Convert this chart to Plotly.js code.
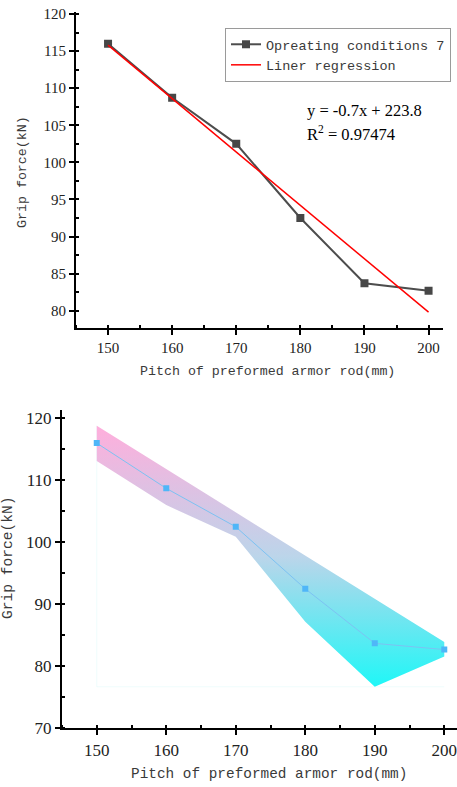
<!DOCTYPE html>
<html>
<head>
<meta charset="utf-8">
<script src="https://cdn.plot.ly/plotly-3.0.1.min.js"></script>
<style>
  html, body { margin: 0; padding: 0; background: #ffffff; overflow: hidden; }
  #chart { width: 457px; height: 787px; }
</style>
</head>
<body>
<div id="chart"></div>
<script>
// Pitch of the preformed armor rod (mm) and measured grip force (kN)
var pitch = [150, 160, 170, 180, 190, 200];
var gripForce = [116.0, 108.7, 102.5, 92.5, 83.7, 82.7];

// Fitted regression line, drawn between its two end points
var fitX = [150, 200];
var fitY = [115.8, 79.8];
var fitEquation = 'y = -0.7x + 223.8';
var fitR2 = 'R<sup>2</sup> = 0.97474';

// Band around the measured curve (upper and lower edges)
var bandUpper = [118.8, 111.8, 104.8, 97.8, 90.8, 83.9];
var bandLower = [113.1, 106.0, 100.9, 87.2, 76.7, 81.6];

var seriesName = 'Opreating conditions 7';
var fitName = 'Liner regression';
var xTitle = 'Pitch of preformed armor rod(mm)';
var yTitle = 'Grip force(kN)';

var W = 457, H = 787;
function px(x) { return x / W; }
function py(y) { return 1 - y / H; }

var serif = 'Liberation Serif, Times New Roman, serif';
var mono = 'Liberation Mono, Courier New, monospace';
var titleColor = '#3a3a3a';

// closed polygon for the band: upper edge left→right, lower edge right→left
var bandX = pitch.concat(pitch.slice().reverse());
var bandY = bandUpper.concat(bandLower.slice().reverse());

var traces = [
  {
    x: pitch, y: gripForce, name: seriesName,
    type: 'scatter', mode: 'lines+markers',
    xaxis: 'x', yaxis: 'y',
    line: { color: '#4d4d4d', width: 2 },
    marker: { symbol: 'square', size: 8, color: '#474747' }
  },
  {
    x: fitX, y: fitY, name: fitName,
    type: 'scatter', mode: 'lines',
    xaxis: 'x', yaxis: 'y',
    line: { color: '#ff0000', width: 1.5 }
  },
  {
    x: bandX, y: bandY, type: 'scatter', mode: 'lines',
    xaxis: 'x2', yaxis: 'y2', showlegend: false, hoverinfo: 'skip',
    fill: 'toself', line: { width: 0, color: 'rgba(0,0,0,0)' },
    fillgradient: {
      type: 'vertical',
      colorscale: [[0, '#1ff7f7'], [0.5, '#bcd5ea'], [1, '#ffaedc']]
    }
  },
  {
    x: pitch, y: gripForce, type: 'scatter', mode: 'lines+markers',
    xaxis: 'x2', yaxis: 'y2', showlegend: false,
    line: { color: '#7cc2f2', width: 1 },
    marker: { symbol: 'square', size: 6, color: '#4fb6f8' }
  }
];

function axisStyle(extra, fontSize) {
  var base = {
    showline: true, linecolor: '#000000', linewidth: 2,
    showgrid: false, zeroline: false,
    ticks: 'outside', ticklen: 5, tickwidth: 2, tickcolor: '#000000',
    ticklabeloverflow: 'allow',
    tickfont: { family: serif, size: fontSize, color: '#222222' },
    fixedrange: true
  };
  for (var k in extra) base[k] = extra[k];
  return base;
}
function minorTicks(step) {
  return { ticks: 'inside', ticklen: 3, tickwidth: 2, tickcolor: '#000000', dtick: step, showgrid: false };
}

var bandMinY = Math.min.apply(null, bandLower);
var bandMaxY = Math.max.apply(null, bandUpper);

var layout = {
  width: W, height: H,
  margin: { l: 0, r: 0, t: 0, b: 0 },
  paper_bgcolor: '#ffffff', plot_bgcolor: 'rgba(0,0,0,0)',
  showlegend: true,
  legend: {
    x: px(225), y: py(28), xanchor: 'left', yanchor: 'top',
    bgcolor: '#ffffff', bordercolor: '#9a9a9a', borderwidth: 1,
    font: { family: mono, size: 13.5, color: titleColor },
    tracegroupgap: 0
  },
  xaxis: axisStyle({
    domain: [px(76), px(443.3)], range: [145, 202.3], anchor: 'y',
    dtick: 10, tick0: 150, minor: minorTicks(5)
  }, 15),
  yaxis: axisStyle({
    domain: [py(328.3), py(12)], range: [77.63, 120.27], anchor: 'x',
    dtick: 5, tick0: 80, minor: minorTicks(2.5)
  }, 15),
  xaxis2: axisStyle({
    domain: [px(62), 1], range: [145, 201.83], anchor: 'y2',
    dtick: 10, tick0: 150, minor: minorTicks(5)
  }, 17),
  yaxis2: axisStyle({
    domain: [py(728.3), py(410)], range: [70, 121.34], anchor: 'x2',
    dtick: 10, tick0: 70, minor: minorTicks(5)
  }, 17),
  shapes: [
    // faint left and bottom edges of the band's bounding box
    {
      type: 'line', xref: 'x2', yref: 'y2', layer: 'below',
      x0: pitch[0], x1: pitch[0], y0: bandMinY, y1: bandMaxY,
      line: { color: 'rgba(210,246,246,0.35)', width: 1 }
    },
    {
      type: 'line', xref: 'x2', yref: 'y2', layer: 'below',
      x0: pitch[0], x1: pitch[pitch.length - 1], y0: bandMinY, y1: bandMinY,
      line: { color: 'rgba(210,246,246,0.35)', width: 1 }
    }
  ],
  annotations: [
    { text: fitEquation, xref: 'paper', yref: 'paper', x: px(305), y: py(110),
      xanchor: 'left', yanchor: 'middle', showarrow: false,
      font: { family: serif, size: 16.5, color: '#000000' } },
    { text: fitR2, xref: 'paper', yref: 'paper', x: px(305), y: py(134),
      xanchor: 'left', yanchor: 'middle', showarrow: false,
      font: { family: serif, size: 16.5, color: '#000000' } },
    { text: xTitle, xref: 'paper', yref: 'paper', x: px(267), y: py(372),
      xanchor: 'center', yanchor: 'middle', showarrow: false,
      font: { family: mono, size: 13.3, color: titleColor } },
    { text: yTitle, xref: 'paper', yref: 'paper', x: px(22), y: py(172),
      xanchor: 'center', yanchor: 'middle', showarrow: false, textangle: -90,
      font: { family: mono, size: 13.3, color: titleColor } },
    { text: xTitle, xref: 'paper', yref: 'paper', x: px(269), y: py(774),
      xanchor: 'center', yanchor: 'middle', showarrow: false,
      font: { family: mono, size: 14.4, color: titleColor } },
    { text: yTitle, xref: 'paper', yref: 'paper', x: px(8), y: py(558),
      xanchor: 'center', yanchor: 'middle', showarrow: false, textangle: -90,
      font: { family: mono, size: 14.6, color: titleColor } }
  ]
};

Plotly.newPlot('chart', traces, layout, { staticPlot: true, displayModeBar: false });
</script>
</body>
</html>
